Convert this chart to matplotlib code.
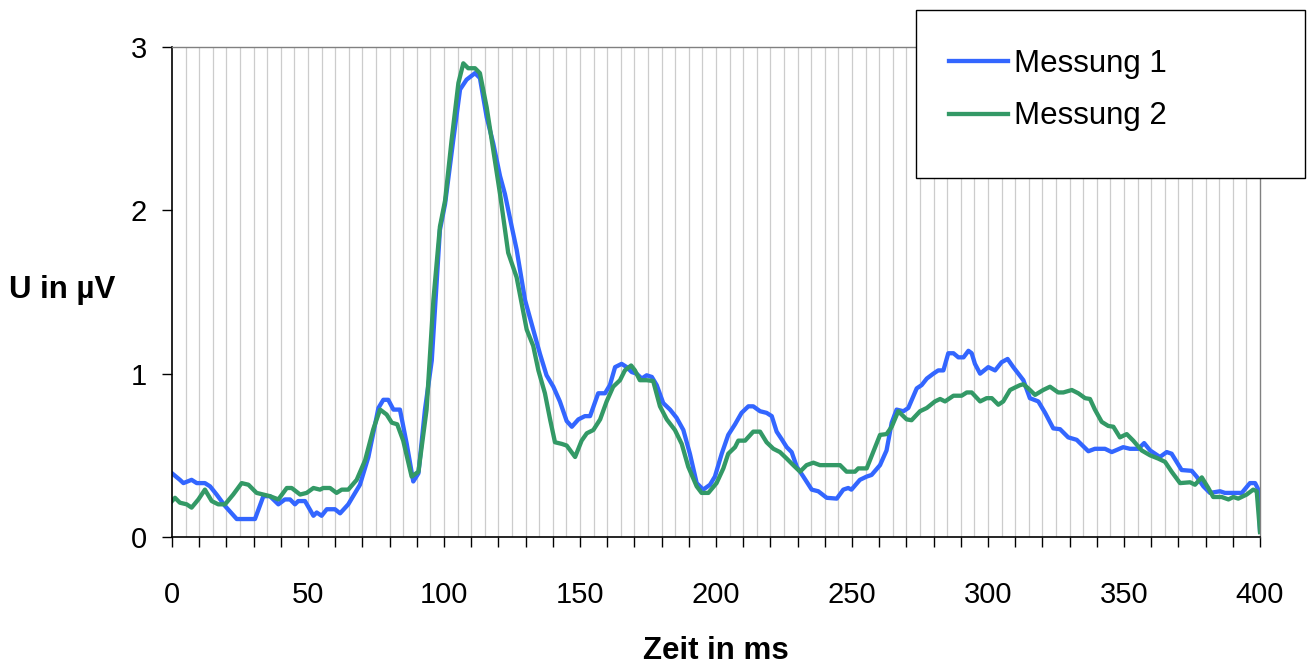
import numpy as np
import matplotlib
matplotlib.use('Agg')
import matplotlib.pyplot as plt
from matplotlib.patches import Rectangle
from matplotlib.ticker import MultipleLocator

plt.rcParams['font.family'] = ['Liberation Sans', 'DejaVu Sans']

# Messung 1 (blue)
t_m1 = [0, 2.9, 4.2, 7.2, 9.1, 12.1, 14, 16.4, 19.5, 23.8, 30.5, 33.6, 36, 39.1, 41.5,
        43.4, 45.2, 46.4, 48.9, 52, 53.2, 55, 56.9, 59.9, 61.8, 64.8, 69.1, 72.2, 75.9,
        77.7, 79.5, 81.4, 83.8, 86.3, 88.7, 90.6, 93, 95.5, 98.5, 100.4, 103.4, 105.9,
        108.3, 111.4, 113.2, 115.7, 118.1, 120.6, 122.4, 124.9, 126.7, 129.8, 132.8,
        135.3, 137.7, 140.2, 142.6, 145.1, 147, 149.4, 151.8, 153.7, 156.7, 159.2, 161,
        162.9, 165.3, 167.2, 169, 170.8, 172.7, 174.5, 176.4, 178.2, 180.6, 183.1, 185.5,
        188, 190.4, 192.9, 195.3, 197.8, 199.6, 202.1, 204.5, 207, 209.4, 211.9, 213.7,
        216.2, 218.6, 220.5, 222.3, 224.1, 226, 227.8, 229.7, 232.1, 235.2, 237.6, 240.7,
        244.4, 246.8, 248.6, 249.8, 252.9, 255.4, 257.2, 260.3, 262.7, 264.6, 266.4,
        268.9, 270.7, 273.8, 275.6, 277.5, 279.9, 281.7, 283.6, 285.4, 287.3, 289.1, 291,
        292.8, 294, 295.2, 297.1, 300.1, 302.6, 305, 307.2, 309.3, 313, 315.4, 318.5, 321,
        324, 326.5, 329.5, 332.6, 336.9, 339.3, 343, 345.5, 349.7, 352.2, 355.3, 357.4,
        359.6, 363.2, 365.7, 367.5, 371.2, 374.9, 376.7, 379.2, 381.6, 385.3, 387.1,
        390.2, 393.3, 396.3, 398.2, 399.4, 400]
u_m1 = [0.39, 0.35, 0.33, 0.35, 0.33, 0.33, 0.31, 0.26, 0.19, 0.11, 0.11, 0.25, 0.25, 0.20, 0.23,
        0.23, 0.20, 0.22, 0.22, 0.13, 0.15, 0.13, 0.17, 0.17, 0.145, 0.20, 0.32, 0.49, 0.79,
        0.84, 0.84, 0.78, 0.78, 0.57, 0.34, 0.39, 0.78, 1.08, 1.88, 2.04, 2.43, 2.74,
        2.80, 2.84, 2.81, 2.57, 2.41, 2.21, 2.10, 1.90, 1.76, 1.45, 1.27,
        1.12, 0.99, 0.92, 0.83, 0.71, 0.675, 0.72, 0.74, 0.74, 0.88, 0.88, 0.93,
        1.04, 1.06, 1.04, 1.01, 1.00, 0.97, 0.99, 0.98, 0.93, 0.82, 0.78, 0.73,
        0.655, 0.51, 0.33, 0.29, 0.32, 0.37, 0.51, 0.625, 0.69, 0.76, 0.80, 0.80,
        0.77, 0.76, 0.74, 0.645, 0.60, 0.55, 0.52, 0.43, 0.37, 0.29, 0.28, 0.24,
        0.235, 0.29, 0.30, 0.29, 0.35, 0.37, 0.38, 0.44, 0.53, 0.70, 0.78,
        0.77, 0.79, 0.91, 0.93, 0.97, 1.00, 1.02, 1.02, 1.125, 1.125, 1.10, 1.10,
        1.14, 1.125, 1.06, 1.00, 1.04, 1.02, 1.07, 1.09, 1.04, 0.96, 0.85, 0.83, 0.76,
        0.665, 0.66, 0.61, 0.595, 0.525, 0.54, 0.54, 0.52, 0.55, 0.54, 0.54, 0.575,
        0.53, 0.49, 0.52, 0.51, 0.41, 0.405, 0.37, 0.31, 0.27, 0.28, 0.27,
        0.27, 0.27, 0.33, 0.33, 0.29, 0.04]

# Messung 2 (green)
t_m2 = [0, 1.1, 2.9, 5.4, 7.2, 9.7, 12.1, 14.6, 17, 19.5, 22.5, 25.6, 28.1, 31.1, 33.6, 36,
        39.1, 42.2, 44, 47.1, 49.5, 52, 54.4, 55.6, 58.1, 60.5, 62.4, 64.8, 67.9, 71, 74,
        76.5, 78.9, 80.8, 82.8, 85, 88.1, 90.6, 93.6, 96.1, 98.5, 100.4, 102.8, 105.3,
        107.1, 108.9, 111.4, 113.2, 115.7, 118.1, 120.6, 123.6, 126.7, 130.4, 132.8,
        134.7, 137.1, 139, 140.8, 143.3, 145.1, 148.2, 150.6, 152.5, 154.9, 157.4, 159.8,
        162.2, 164.7, 166.5, 168.8, 170.2, 172, 174.5, 176.9, 179.4, 181.9, 184.9, 187.4,
        189.8, 192.9, 194.7, 197.2, 200.2, 202.7, 204.5, 207, 208.2, 210.7, 213.7, 216.2,
        218.6, 221.1, 223.5, 226, 228.4, 230.9, 233.3, 235.8, 238.2, 245.6, 248, 251.1,
        252.3, 255.4, 257.8, 260.3, 262.7, 264.6, 267, 270.1, 271.9, 275, 277.5, 280.5,
        282.4, 284.2, 287.3, 290.3, 292.2, 294, 297.1, 299.5, 301.4, 303.8, 305.6, 308.1,
        309.9, 311.8, 313, 314.8, 317.3, 320.3, 322.8, 325.8, 327.7, 330.8, 333.2, 335.7,
        337.5, 339.3, 341.8, 344.2, 346.1, 348.5, 351, 353.4, 356.5, 359.6, 362.6, 365.1,
        367.5, 370.6, 374.3, 376.1, 378.6, 381, 382.8, 385.9, 388.4, 390.2, 392, 395.1,
        397.5, 398.8, 400]
u_m2 = [0.22, 0.24, 0.21, 0.20, 0.18, 0.23, 0.29, 0.22, 0.20, 0.20, 0.26, 0.33, 0.32, 0.27, 0.26, 0.25,
        0.23, 0.30, 0.30, 0.26, 0.27, 0.30, 0.29, 0.30, 0.30, 0.27, 0.29, 0.29, 0.35, 0.47, 0.66,
        0.78, 0.75, 0.70, 0.69, 0.59, 0.37, 0.40, 0.78, 1.45, 1.90, 2.06, 2.43, 2.78,
        2.90, 2.87, 2.87, 2.84, 2.63, 2.37, 2.10, 1.74, 1.59, 1.27, 1.17,
        1.02, 0.88, 0.72, 0.58, 0.57, 0.56, 0.49, 0.59, 0.635, 0.655, 0.72, 0.83,
        0.92, 0.96, 1.02, 1.05, 1.02, 0.96, 0.96, 0.955, 0.80, 0.72, 0.655, 0.57,
        0.43, 0.31, 0.27, 0.27, 0.33, 0.42, 0.51, 0.55, 0.59, 0.59, 0.645, 0.645,
        0.58, 0.54, 0.52, 0.48, 0.44, 0.40, 0.44, 0.455, 0.44, 0.44, 0.40, 0.40,
        0.42, 0.42, 0.52, 0.625, 0.63, 0.675, 0.77, 0.72, 0.715, 0.77, 0.79, 0.83,
        0.845, 0.83, 0.865, 0.865, 0.885, 0.885, 0.83, 0.85, 0.85, 0.81, 0.83, 0.90,
        0.915, 0.93, 0.935, 0.91, 0.87, 0.90, 0.92, 0.885, 0.885, 0.90, 0.88, 0.85,
        0.845, 0.78, 0.705, 0.68, 0.675, 0.61, 0.63, 0.59, 0.53, 0.50, 0.48, 0.46,
        0.40, 0.33, 0.335, 0.32, 0.365, 0.30, 0.245, 0.245, 0.23, 0.245, 0.235, 0.26,
        0.29, 0.28, 0.03]

labels = ['Messung 1', 'Messung 2']
colors = ['#3366FF', '#339966']

W, H = 1311, 667
fig = plt.figure(figsize=(W / 100, H / 100), dpi=100)
ax = fig.add_axes([172 / W, 1 - 537 / H, 1088 / W, 490 / H])

# vertical grid every 5 ms
for x in np.arange(5, 400, 5):
    ax.axvline(x, color='#cccccc', lw=0.9, zorder=0)

ax.plot(t_m1, u_m1, color=colors[0], lw=3.1, label=labels[0], solid_joinstyle='round')
ax.plot(t_m2, u_m2, color=colors[1], lw=3.1, label=labels[1], solid_joinstyle='round')

ax.set_xlim(0, 400)
ax.set_ylim(0, 3)
ax.xaxis.set_major_locator(MultipleLocator(50))
ax.xaxis.set_minor_locator(MultipleLocator(10))
ax.yaxis.set_major_locator(MultipleLocator(1))
ax.tick_params(axis='x', which='both', direction='out', length=7.5, width=1, pad=24, labelsize=21)
ax.tick_params(axis='y', which='major', direction='out', length=7, width=1, pad=11, labelsize=21)

for side in ['top', 'right']:
    ax.spines[side].set_color('#808080')
    ax.spines[side].set_linewidth(1)
for side in ['left', 'bottom']:
    ax.spines[side].set_color('black')
    ax.spines[side].set_linewidth(1.2)

ax.set_xlabel('Zeit in ms', fontsize=22.5, fontweight='bold', va='center')
ax.xaxis.set_label_coords(0.5, -0.232)
ax.set_ylabel('U in µV', fontsize=22.5, fontweight='bold', rotation=0, ha='center', va='center')
ax.yaxis.set_label_coords(-0.101, 0.505)

# legend box (sticks out past the plot area)
box = Rectangle((916 / W, 1 - 178 / H), 389 / W, 168 / H, transform=fig.transFigure,
                facecolor='white', edgecolor='black', lw=1, zorder=5)
fig.patches.append(box)
leg = fig.legend(loc='upper left', bbox_to_anchor=(933 / W, 1 - 33 / H), frameon=False,
                 fontsize=22.5, handlelength=1.9, handletextpad=0.2, labelspacing=0.73,
                 borderpad=0)
leg.set_zorder(6)

fig.savefig('out.png', dpi=100)
